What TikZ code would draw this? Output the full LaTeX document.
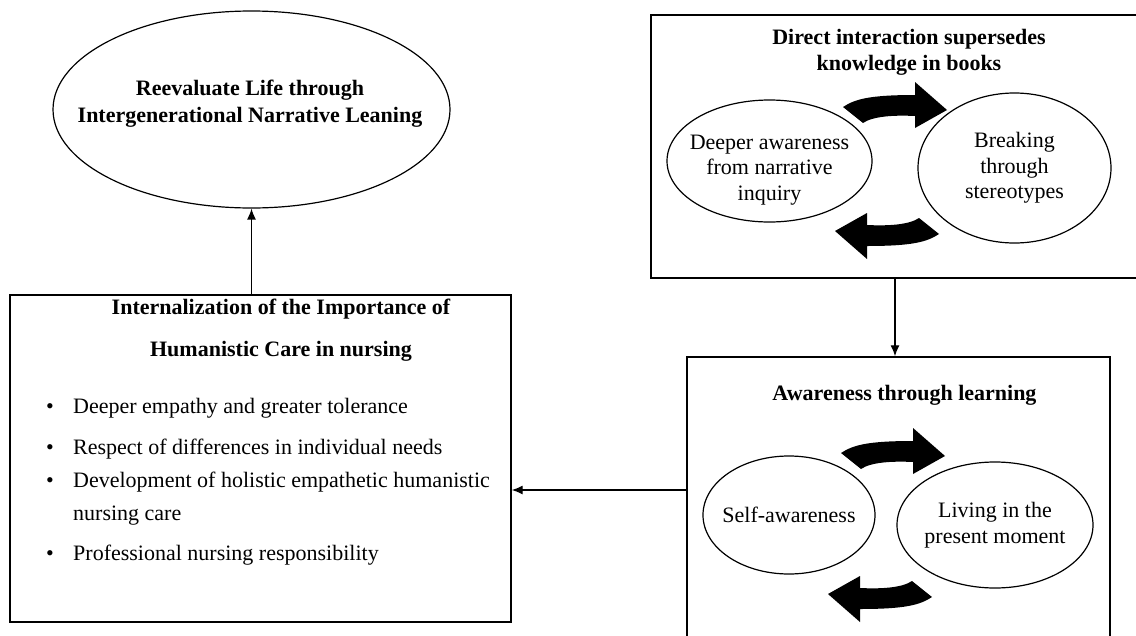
\documentclass[tikz,border=0pt]{standalone}
\usepackage{fontspec}
\setmainfont{Liberation Serif}
\usetikzlibrary{arrows.meta,shapes.geometric}

\tikzset{
  panel/.style={draw, line width=1.4pt, inner sep=0pt},
  bubbletext/.style={align=center, font=\fontsize{22}{25.5}\selectfont},
  bubble/.style={draw, ellipse, line width=1.2pt, inner xsep=-40pt, inner ysep=-40pt, bubbletext},
  heading/.style={inner sep=0pt, align=center, font=\bfseries\fontsize{22}{26}\selectfont},
  carepoint/.style={inner sep=0pt, anchor=base west, font=\fontsize{22}{26}\selectfont},
  link/.style={line width=1.3pt, -{Latex[length=11pt,width=9pt]}},
  cyclearrow/.pic={
    \fill (-52,-1) .. controls (-40,-9) and (-25,-13) .. (20,-13) -- (20,-26) -- (52,2)
      -- (20,20) -- (20,8) .. controls (0,7) and (-22,8) .. (-32,15) -- cycle;
  }
}
\newcommand{\itemdot}{\makebox[27pt][l]{\textbullet}}

\begin{document}
\begin{tikzpicture}[x=1pt,y=-1pt]
\useasboundingbox (0,0) rectangle (1136,635);

% left column
\node[bubble, minimum width=397, minimum height=197] (life) at (251.5,109.5) {};
\node[heading, font=\bfseries\fontsize{22}{27}\selectfont] (lifetitle) at (250,104)
  {Reevaluate Life through\\Intergenerational Narrative Leaning};

\node[panel, minimum width=501, minimum height=327] (care) at (260.5,458.5) {};
\node[heading, font=\bfseries\fontsize{22}{42}\selectfont] (caretitle) at (281,330)
  {Internalization of the Importance of\\Humanistic Care in nursing};
\node[carepoint] (empathy) at (46,413) {\itemdot Deeper empathy and greater tolerance};
\node[carepoint] (respect) at (46,454) {\itemdot Respect of differences in individual needs};
\node[carepoint] (holistic) at (46,487) {\itemdot Development of holistic empathetic humanistic};
\node[carepoint] (holisticb) at (73,520) {nursing care};
\node[carepoint] (duty) at (46,560) {\itemdot Professional nursing responsibility};

% top right
\node[panel, minimum width=488, minimum height=263] (books) at (895,146.5) {};
\node[heading] (bookstitle) at (909,52) {Direct interaction supersedes\\knowledge in books};
\node[bubble, minimum width=205, minimum height=122,
  label={[bubbletext, yshift=-9pt]center:{Deeper awareness\\from narrative\\inquiry}}] (inquiry) at (769.5,161) {};
\node[bubble, minimum width=193, minimum height=150] (stereo) at (1014.5,168) {Breaking\\through\\stereotypes};
\pic at (895,108) {cyclearrow};
\pic[rotate=180] at (887,233) {cyclearrow};

% bottom right
\node[panel, minimum width=423, minimum height=300] (aware) at (898.5,507) {};
\node[heading] (awaretitle) at (904.5,395) {Awareness through learning};
\node[bubble, minimum width=172, minimum height=118] (self) at (789,515) {Self-awareness};
\node[bubble, minimum width=196, minimum height=126] (present) at (995,525) {Living in the\\present moment};
\pic at (893,454) {cyclearrow};
\pic[rotate=180] at (880,596) {cyclearrow};

% connectors
\draw[link] (care.north -| life.south) -- (life.south);
\draw[link] (books.south) -- (books.south |- aware.north);
\draw[link] ([yshift=17pt]aware.west) -- ([yshift=17pt]aware.west -| care.east);
\end{tikzpicture}
\end{document}
